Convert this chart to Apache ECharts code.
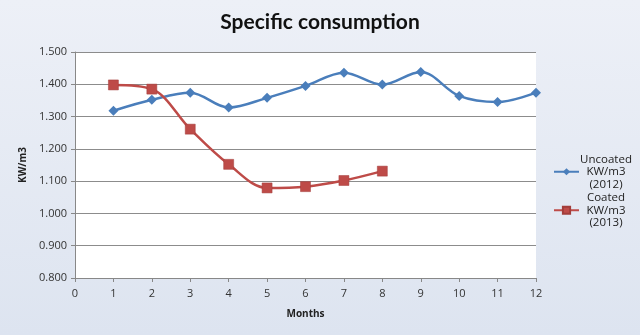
<!DOCTYPE html>
<html>
<head>
<meta charset="utf-8">
<script src="https://cdn.jsdelivr.net/npm/echarts@6/dist/echarts.min.js"></script>
<style>
html,body{margin:0;padding:0;}
#c{width:640px;height:335px;}
</style>
</head>
<body>
<div id="c"></div>
<script>
var months = [1,2,3,4,5,6,7,8,9,10,11,12];
var uncoated = [1.318,1.352,1.374,1.328,1.358,1.395,1.436,1.399,1.438,1.364,1.345,1.374];
var coatedMonths = [1,2,3,4,5,6,7,8];
var coated = [1.398,1.385,1.261,1.152,1.079,1.083,1.102,1.131];
var seriesNames = ['Uncoated\nKW/m3\n(2012)', 'Coated\nKW/m3\n(2013)'];

var chart = echarts.init(document.getElementById('c'));
chart.setOption({
  backgroundColor: new echarts.graphic.LinearGradient(0,0,0,1,[
    {offset:0,color:'#edf0f7'},{offset:1,color:'#dde4f0'}
  ]),
  title: {
    text: 'Specific consumption', left: 'center', top: 7,
    textStyle: {fontFamily:'Lato', fontWeight:'bold', fontSize:21, color:'#111'}
  },
  legend: {
    orient:'vertical', left: 553, top: 153, itemGap: 1, padding: 0,
    itemWidth: 25, itemHeight: 9,
    formatter: function(name){
      return name.split('\n').map(function(s){return '{c|' + s + '}';}).join('\n');
    },
    textStyle: {
      fontFamily:'Open Sans', fontSize:11.5, color:'#222', lineHeight:12.5,
      rich: {c: {fontFamily:'Open Sans', fontSize:11.5, color:'#222', lineHeight:12.5, width:44, align:'center'}}
    },
    data: seriesNames
  },
  grid: {left:75, right:104, top:52, bottom:57, show:true, backgroundColor:'#ffffff', borderWidth:0},
  xAxis: {
    type:'value', min:0, max:12, interval:1,
    name:'Months', nameLocation:'middle', nameGap:31,
    nameTextStyle:{fontFamily:'Open Sans', fontWeight:'bold', fontSize:10, color:'#222'},
    axisLine:{show:true, lineStyle:{color:'#888'}},
    axisTick:{show:true, length:4, lineStyle:{color:'#888'}},
    axisLabel:{fontFamily:'Open Sans', fontSize:11, color:'#333', margin:10},
    splitLine:{show:false}
  },
  yAxis: {
    type:'value', min:0.8, max:1.5, interval:0.1,
    name:'KW/m3', nameLocation:'middle', nameGap:42, nameRotate:90,
    nameTextStyle:{fontFamily:'Open Sans', fontWeight:'bold', fontSize:10, color:'#222'},
    axisLine:{show:true, lineStyle:{color:'#888'}},
    axisTick:{show:true, length:4, lineStyle:{color:'#888'}},
    axisLabel:{fontFamily:'Open Sans', fontSize:11, color:'#333', margin:8,
      formatter:function(v){return v.toFixed(3);}},
    splitLine:{show:true, lineStyle:{color:'#8c8c8c', width:1}}
  },
  series: [
    {
      name: seriesNames[0], type:'line', smooth:0.35,
      data: months.map(function(m,i){return [m, uncoated[i]];}),
      symbol:'diamond', symbolSize:10,
      lineStyle:{color:'#4a7ebb', width:2.5},
      itemStyle:{color:'#4a7ebb'}
    },
    {
      name: seriesNames[1], type:'line', smooth:0.35,
      data: coatedMonths.map(function(m,i){return [m, coated[i]];}),
      symbol:'rect', symbolSize:10,
      lineStyle:{color:'#be4b48', width:2.5},
      itemStyle:{color:'#be4b48', borderColor:'#a33d3a', borderWidth:0.5}
    }
  ]
});
</script>
</body>
</html>
